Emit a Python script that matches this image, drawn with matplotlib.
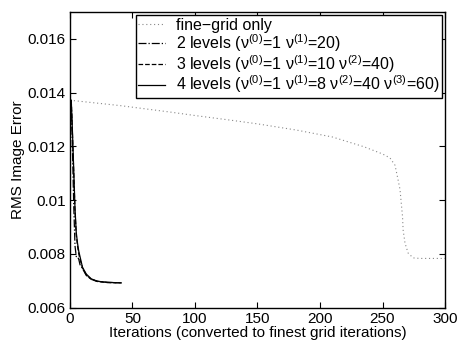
import matplotlib
matplotlib.use("Agg")
import matplotlib.pyplot as plt

plt.rcParams['font.family'] = ['Liberation Sans', 'DejaVu Sans']
plt.rcParams['mathtext.fontset'] = 'custom'
plt.rcParams['mathtext.rm'] = 'Liberation Sans'
plt.rcParams['mathtext.it'] = 'Liberation Sans'

# fine grid only
fine_x = [0, 20, 40, 60, 80, 100, 128, 150, 181, 210, 235, 250, 256, 260, 262, 264,
          265, 266, 266.5, 268, 270.5, 274.5, 280, 300]
fine_y = [0.01372, 0.01362, 0.01352, 0.01340, 0.01328, 0.01315, 0.01298, 0.01284,
          0.01261, 0.01235, 0.01199, 0.01172, 0.01157, 0.01130, 0.01086, 0.01040,
          0.00989, 0.00940, 0.00889, 0.00840, 0.00803, 0.00785, 0.00783, 0.00783]

# 2 levels
lev2_x = [1, 2, 3, 4, 5, 6, 7, 8, 10, 13, 17, 22, 30, 41]
lev2_y = [0.01372, 0.0118, 0.0098, 0.0083, 0.0079, 0.0079, 0.0078, 0.0076, 0.00745,
          0.0072, 0.00705, 0.00698, 0.00694, 0.00692]

# 3 levels
lev3_x = [1, 2, 3, 4, 5, 6, 7, 8, 10, 13, 17, 22, 30, 40]
lev3_y = [0.01372, 0.0124, 0.0110, 0.0096, 0.0087, 0.0083, 0.0080, 0.0078, 0.00748,
          0.00722, 0.00705, 0.00697, 0.00693, 0.00692]

# 4 levels
lev4_x = [1, 2, 3, 4, 5, 6, 7, 8, 10, 13, 17, 22, 30, 41]
lev4_y = [0.01372, 0.0125, 0.0111, 0.0097, 0.0088, 0.0084, 0.0081, 0.0079, 0.00750,
          0.00725, 0.00707, 0.00698, 0.00694, 0.00692]

labels = ['fine\u2212grid only',
          r'2 levels (ν$^{(0)}$=1 ν$^{(1)}$=20)',
          r'3 levels (ν$^{(0)}$=1 ν$^{(1)}$=10 ν$^{(2)}$=40)',
          r'4 levels (ν$^{(0)}$=1 ν$^{(1)}$=8 ν$^{(2)}$=40 ν$^{(3)}$=60)']

fig = plt.figure(figsize=(4.59, 3.46), dpi=100)
ax = fig.add_axes([0.1525, 0.111, 0.817, 0.854])

ax.plot(fine_x, fine_y, linestyle=(0, (1, 2.5)), color='#888888', linewidth=0.8, label=labels[0])
ax.plot(lev2_x, lev2_y, linestyle='-.', color='black', linewidth=0.9, label=labels[1])
ax.plot(lev3_x, lev3_y, linestyle='--', color='black', linewidth=0.9, label=labels[2])
ax.plot(lev4_x, lev4_y, linestyle='-', color='black', linewidth=0.9, label=labels[3])

ax.set_xlim(0, 300)
ax.set_ylim(0.006, 0.017)
ax.set_xticks([0, 50, 100, 150, 200, 250, 300])
ax.set_yticks([0.006, 0.008, 0.01, 0.012, 0.014, 0.016])
ax.set_yticklabels(['0.006', '0.008', '0.01', '0.012', '0.014', '0.016'])
ax.tick_params(direction='in', top=True, right=True, labelsize=11, length=4, width=0.8, pad=3)
for s in ax.spines.values():
    s.set_linewidth(1.0)

ax.set_xlabel('Iterations (converted to finest grid iterations)', fontsize=11, labelpad=0)
ax.set_ylabel('RMS Image Error', fontsize=11, labelpad=2)

leg = ax.legend(loc='upper right', handlelength=1.65, borderaxespad=0.2,
                borderpad=0.15, labelspacing=-0.05, handletextpad=0.7, fancybox=False,
                framealpha=1, edgecolor='black', prop={'size': 11.5})
leg.get_frame().set_linewidth(1.0)

fig.savefig('out.png', dpi=100)
